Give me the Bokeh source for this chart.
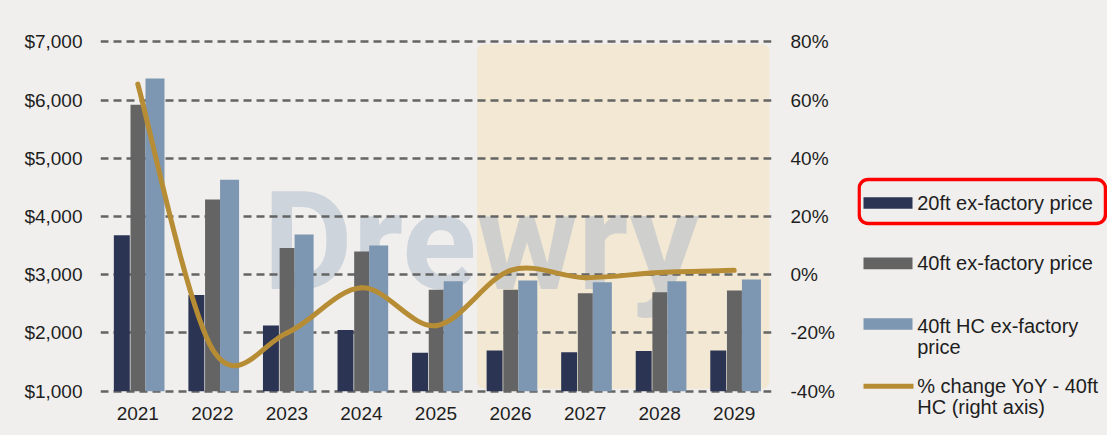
from bokeh.plotting import figure
from bokeh.models import (Range1d, LinearAxis, FixedTicker, NumeralTickFormatter,
                          PrintfTickFormatter)
from bokeh.layouts import row
from bokeh.core.properties import value
from bokeh.embed import file_html
from bokeh.resources import INLINE

# ---------------- data ----------------
years = ["2021", "2022", "2023", "2024", "2025", "2026", "2027", "2028", "2029"]
price_20ft = [3680, 2650, 2130, 2050, 1660, 1700, 1670, 1690, 1700]
price_40ft = [5920, 4290, 3460, 3400, 2740, 2740, 2680, 2700, 2730]
price_40hc = [6370, 4630, 3690, 3500, 2890, 2900, 2870, 2890, 2920]
pct_change_hc = [65.5, -25.5, -20.0, -4.5, -17.5, 1.5, -1.0, 0.8, 1.5]
left_ticks = [1000, 2000, 3000, 4000, 5000, 6000, 7000]
right_ticks = [-40, -20, 0, 20, 40, 60, 80]
forecast_start = 5  # index of first forecast year (2026)
legend_labels = ["20ft ex-factory price", "40ft ex-factory price", "40ft HC ex-factory",
                 "price", "% change YoY - 40ft", "HC (right axis)"]

# ---------------- styles ----------------
BG = "#F0EFED"
C20 = "#2B3453"
C40 = "#646464"
CHC = "#7D97B2"
CLINE = "#B68D35"
BEIGE = "#F2E8D4"
TXT = "#1E1E1E"
FONT = "Liberation Sans"
FS = "19px"

idx = list(range(len(years)))

p = figure(width=857, height=435,
           min_border_left=100, min_border_right=86, min_border_top=39, min_border_bottom=42,
           x_range=Range1d(-0.5, len(years) - 0.5), y_range=Range1d(960, 7040),
           toolbar_location=None, output_backend="svg",
           background_fill_color=BG, border_fill_color=BG, outline_line_color=None)
p.extra_y_ranges = {"pct": Range1d(-40.8, 80.8)}
p.xgrid.visible = False
p.ygrid.visible = False
p.styles = {"background-color": BG}
p.frame_align = False

# forecast shading
p.quad(left=forecast_start - 0.45, right=len(years) - 0.53, bottom=1040, top=6960,
       fill_color=BEIGE, line_color=None, border_radius=7)

# watermark
p.text(x=[1.68], y=[3560], text=["Drewry"], text_font=value("Roboto"),
       text_font_style="bold", text_font_size="138px", text_color="#9FAEC4",
       text_alpha=0.42, text_baseline="middle", text_align="left")

# dashed grid
p.hspan(y=left_ticks, line_color="#646464", line_width=2.5, line_dash="8 5")

# bars
p.vbar(x=[i - 0.214 for i in idx], top=price_20ft, bottom=1000, width=0.214,
       fill_color=C20, line_color=None)
p.vbar(x=[i + 0.003 for i in idx], top=price_40ft, bottom=1000, width=0.201,
       fill_color=C40, line_color=None)
p.vbar(x=[i + 0.231 for i in idx], top=price_40hc, bottom=1000, width=0.255,
       fill_color=CHC, line_color=None)

# smooth line (Catmull-Rom -> cubic Bezier) on right axis
n = len(pct_change_hc)
pts = list(zip(idx, pct_change_hc))
x0, y0, x1, y1, cx0, cy0, cx1, cy1 = ([] for _ in range(8))
for i in range(n - 1):
    pm = pts[max(i - 1, 0)]
    pa = pts[i]
    pb = pts[i + 1]
    pn = pts[min(i + 2, n - 1)]
    x0.append(pa[0]); y0.append(pa[1])
    x1.append(pb[0]); y1.append(pb[1])
    cx0.append(pa[0] + (pb[0] - pm[0]) / 6); cy0.append(pa[1] + (pb[1] - pm[1]) / 6)
    cx1.append(pb[0] - (pn[0] - pa[0]) / 6); cy1.append(pb[1] - (pn[1] - pa[1]) / 6)
p.bezier(x0=x0, y0=y0, x1=x1, y1=y1, cx0=cx0, cy0=cy0, cx1=cx1, cy1=cy1,
         y_range_name="pct", line_color=CLINE, line_width=5, line_cap="round")

# axes
def style_axis(ax):
    ax.axis_line_color = None
    ax.major_tick_line_color = None
    ax.minor_tick_line_color = None
    ax.major_tick_out = 0
    ax.major_tick_in = 0
    ax.major_label_text_font = FONT
    ax.major_label_text_font_size = FS
    ax.major_label_text_color = TXT

xa = p.xaxis[0]
xa.ticker = FixedTicker(ticks=idx)
xa.major_label_overrides = {i: y for i, y in zip(idx, years)}
xa.major_label_standoff = 13
style_axis(xa)

ya = p.yaxis[0]
ya.ticker = FixedTicker(ticks=left_ticks)
ya.formatter = NumeralTickFormatter(format="$0,0")
ya.major_label_standoff = 18
style_axis(ya)

ra = LinearAxis(y_range_name="pct", ticker=FixedTicker(ticks=right_ticks),
                formatter=PrintfTickFormatter(format="%d%%"))
ra.major_label_standoff = 19
style_axis(ra)
p.add_layout(ra, "right")

# ---------------- legend panel (coordinates = page pixels, x offset 857) ----------------
lg = figure(width=250, height=435, x_range=Range1d(0, 250), y_range=Range1d(435, 0),
            toolbar_location=None, output_backend="svg",
            background_fill_color=BG, background_fill_alpha=0, border_fill_color=BG,
            outline_line_color=None, min_border=0)
lg.axis.visible = False
lg.grid.visible = False
lg.styles = {"background-color": BG}
lg.frame_align = False

lg.quad(left=1.6, right=248, top=179, bottom=223, fill_alpha=0,
        line_color="#FF0000", line_width=3.5, border_radius=9)

lg.rect(x=[30.5, 30.5, 30.5], y=[202.5, 262.8, 323.5], width=49, height=11.7,
        fill_color=[C20, C40, CHC], line_color=None)
lg.line(x=[6, 56], y=[385.7, 385.7], line_color=CLINE, line_width=5)

lg.text(x=[59.7] * 6, y=[202.7, 262.7, 325, 346.7, 385.7, 406.7], text=legend_labels,
        text_font=value(FONT), text_font_size="20px", text_color=TXT,
        text_baseline="middle", text_align="left")

layout = row(p, lg)
layout.styles = {"background-color": BG}
open("out.html", "w").write(file_html(layout, INLINE))
